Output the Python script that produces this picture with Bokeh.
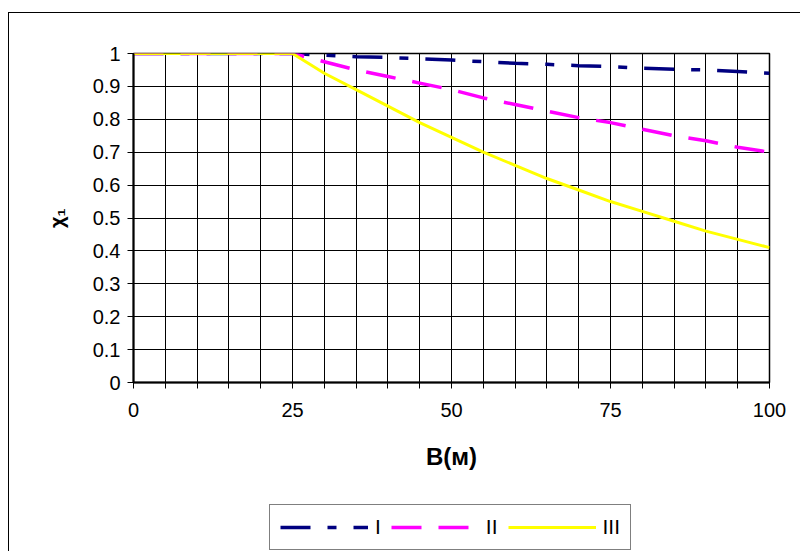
from bokeh.plotting import figure
from bokeh.models import Range1d, FixedTicker, Legend, LegendItem
from bokeh.layouts import column
from bokeh.embed import file_html
from bokeh.resources import INLINE

# Data
x_vals = [0, 5, 10, 15, 20, 25, 30, 35, 40, 45, 50, 55, 60, 65, 70, 75, 80, 85, 90, 95, 100]
series_I = [1, 1, 1, 1, 1, 1, 0.995, 0.99, 0.988, 0.984, 0.98, 0.975, 0.97, 0.967, 0.963,
            0.96, 0.955, 0.952, 0.95, 0.945, 0.94]
series_II = [1, 1, 1, 1, 1, 1, 0.975, 0.95, 0.93, 0.91, 0.89, 0.865, 0.845, 0.825, 0.805,
             0.79, 0.77, 0.75, 0.735, 0.715, 0.70]
series_III = [1, 1, 1, 1, 1, 1, 0.94, 0.89, 0.84, 0.79, 0.745, 0.70, 0.66, 0.62, 0.585,
              0.55, 0.52, 0.49, 0.46, 0.435, 0.41]
series_names = ["I", "II", "III"]
x_ticks = [0, 5, 10, 15, 20, 25, 30, 35, 40, 45, 50, 55, 60, 65, 70, 75, 80, 85, 90, 95, 100]
x_labeled = [0, 25, 50, 75, 100]
y_ticks = [0, 0.1, 0.2, 0.3, 0.4, 0.5, 0.6, 0.7, 0.8, 0.9, 1]
x_title = "B(м)"
y_title = "χ₁"

FONT = "Liberation Sans"
colors = ["#000080", "#FF00FF", "#FFFF00"]
dashes = ["30 17 9 17", "30 17", "solid"]
widths = [3.5, 3.5, 3]

p = figure(width=791, height=490, output_backend="svg", toolbar_location=None,
           x_range=Range1d(0, 100), y_range=Range1d(0, 1),
           min_border_left=124, min_border_top=40, min_border_right=31,
           min_border_bottom=121)

p.background_fill_color = "white"
p.border_fill_color = "white"
p.outline_line_color = "black"
p.outline_line_width = 1.5

# grids
p.xgrid.ticker = FixedTicker(ticks=x_ticks)
p.ygrid.ticker = FixedTicker(ticks=y_ticks)
for g in (p.xgrid, p.ygrid):
    g.grid_line_color = "black"
    g.grid_line_width = 1

# axes
p.xaxis.ticker = FixedTicker(ticks=x_ticks)
p.xaxis.major_label_overrides = {t: ("" if t not in x_labeled else str(t)) for t in x_ticks}
p.yaxis.ticker = FixedTicker(ticks=y_ticks)
p.yaxis.major_label_overrides = {0: "0", 1: "1"}
for ax in (p.xaxis, p.yaxis):
    ax.axis_line_color = "black"
    ax.axis_line_width = 2
    ax.major_tick_line_color = "black"
    ax.major_tick_line_width = 1
    ax.major_tick_out = 6
    ax.major_tick_in = 0
    ax.minor_tick_line_color = None
    ax.major_label_text_font = FONT
    ax.major_label_text_font_size = "20px"
    ax.major_label_text_color = "black"
    ax.axis_label_text_font = FONT
    ax.axis_label_text_font_style = "bold"
    ax.axis_label_text_color = "black"

p.xaxis.major_label_standoff = 14
p.yaxis.major_label_standoff = 7
p.xaxis.axis_label = x_title
p.xaxis.axis_label_text_font_size = "24px"
p.xaxis.axis_label_standoff = 23
p.yaxis.axis_label = y_title
p.yaxis.axis_label_text_font_size = "20px"
p.yaxis.axis_label_standoff = 22

series = [series_I, series_II, series_III]
for ys, c, d, w in zip(series, colors, dashes, widths):
    p.line(x_vals, ys, line_color=c, line_width=w, line_dash=d)

# legend strip below the chart (its series lie outside its visible y range)
p2 = figure(width=791, height=48, output_backend="svg", toolbar_location=None,
            x_range=Range1d(0, 100), y_range=Range1d(5, 6),
            x_axis_type=None, y_axis_type=None,
            min_border_left=0, min_border_right=0, min_border_top=0, min_border_bottom=0)
p2.outline_line_color = None
p2.xgrid.visible = False
p2.ygrid.visible = False
p2.background_fill_color = "white"
p2.border_fill_color = "white"

items = []
for name, ys, c, d, w in zip(series_names, series, colors, dashes, widths):
    r = p2.line(x_vals, ys, line_color=c, line_width=w, line_dash=d)
    items.append(LegendItem(label=name, renderers=[r]))

legend = Legend(items=items, orientation="horizontal", location=(136, 1))
legend.label_text_font = FONT
legend.label_text_font_size = "21px"
legend.label_text_color = "black"
legend.glyph_width = 88
legend.label_width = 0
legend.label_standoff = 7
legend.spacing = 10
legend.padding = 10
legend.margin = 0
legend.border_line_color = "black"
legend.border_line_width = 1
legend.background_fill_color = "white"
legend.background_fill_alpha = 1
p2.add_layout(legend, "center")

layout = column(p, p2)
layout.styles = {"border-left": "1px solid black", "border-top": "1px solid black",
                 "margin-top": "12px", "margin-left": "8px"}

open("out.html", "w").write(file_html(layout, INLINE))
